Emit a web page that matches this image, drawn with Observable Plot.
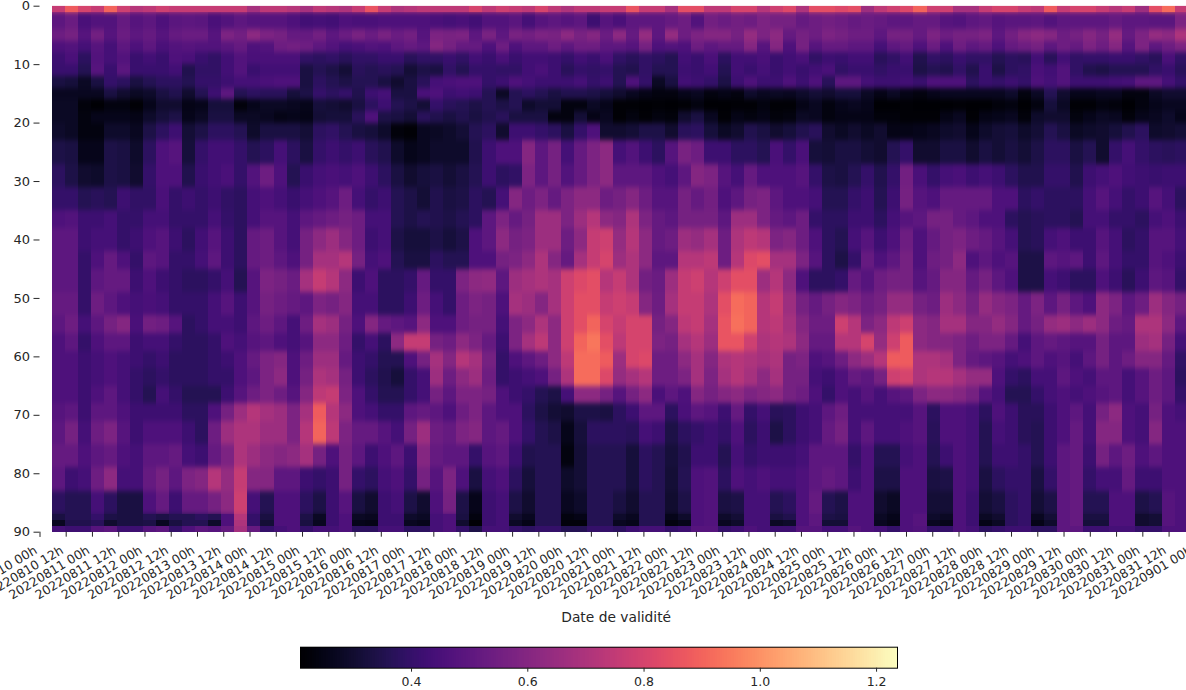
<!DOCTYPE html>
<html>
<head>
<meta charset="utf-8">
<script src="https://cdn.jsdelivr.net/npm/d3@7"></script>
<script src="https://cdn.jsdelivr.net/npm/@observablehq/plot@0.6"></script>
<style>
html,body{margin:0;padding:0;background:#fff;overflow:hidden;width:1186px;height:690px}
svg{display:block}
</style>
</head>
<body>
<div id="chart"></div>
<script>
const rowEdges=[0,1,4,6,8,10,12,14,16,18,20,23,27,31,35,38,42,45,49,53,56,59,62,65,68,71,75,79,83,87,88,89,90];
const band00=[76,88,80,76,90,78,72,74,78,76,76,76,76,76,76,68,74,74,72,68,74,72,
70,76,86,76,70,72,74,74,74,74,80,74,78,76,74,80,74,70,74,74,76,76,
86,76,76,68,84,84,74,74,80,80,72,78,82,70,84,84,82,84,66,74,78,
82,90,78,78,68,68,76,80,80,76,74,88,76,80,80,76,72,76,66,84,92,76];
const band01=[50,53,45,47,47,52,48,50,46,49,50,49,45,47,50,48,48,48,46,43,44,43,
46,45,45,46,46,46,46,45,44,45,43,47,47,49,44,48,50,48,50,42,48,45,
50,50,50,52,54,47,55,53,55,54,58,56,56,52,54,55,54,52,53,52,50,
50,52,52,48,47,50,51,48,49,49,50,47,50,50,50,50,52,50,50,49,49,58];
const band02=[54,56,48,55,48,53,50,52,48,52,53,53,48,58,55,62,58,56,52,52,55,50,
53,57,53,57,53,55,48,58,57,58,50,57,50,57,55,58,57,62,57,60,53,62,
52,64,50,64,54,58,60,60,56,64,58,62,52,56,54,58,56,54,54,50,56,
56,52,58,54,56,56,58,50,55,60,62,60,54,56,60,56,64,52,58,64,62,70];
const band03=[46,47,44,48,44,50,46,50,45,47,48,47,47,49,52,46,47,54,55,54,50,47,
44,45,47,46,50,52,50,60,56,52,52,46,54,46,50,50,54,50,54,54,50,50,
48,56,46,47,46,54,50,52,52,60,48,60,46,56,48,52,52,50,50,44,50,
52,46,53,46,54,50,52,46,52,54,56,50,54,52,58,54,60,48,58,50,54,58];
const band04=[42,45,38,47,44,47,41,43,41,46,45,41,39,43,47,45,45,45,45,39,38,39,
37,39,39,41,41,37,39,39,41,39,43,41,45,41,43,43,42,40,43,41,45,39,
37,39,38,36,43,41,45,38,43,43,45,41,43,45,39,42,41,43,43,37,39,
43,35,39,38,41,39,39,36,38,37,43,37,43,39,40,40,41,41,39,37,45,39];
const band05=[41,41,36,48,41,49,41,41,41,43,35,39,39,43,47,41,43,43,43,33,36,34,
31,37,36,37,36,31,34,33,39,36,40,40,39,39,43,45,42,37,40,39,40,36,
35,39,36,36,42,41,43,36,43,41,44,41,43,41,43,45,39,41,41,39,41,
41,34,36,35,39,35,41,34,38,39,45,43,47,39,35,34,36,36,36,39,41,37];
const band06=[33,32,28,33,40,38,33,36,38,38,36,40,40,42,44,44,45,46,46,33,38,36,
34,36,36,33,30,33,37,44,45,46,46,40,42,46,44,42,42,42,44,40,42,36,
46,40,28,33,43,42,40,34,42,46,42,42,46,42,46,37,50,50,44,42,42,
43,41,46,46,46,38,41,40,42,40,46,44,47,42,42,42,43,44,50,50,44,40];
const band07=[27,27,27,27,33,30,28,29,33,35,30,36,42,50,36,38,37,37,32,34,40,38,
40,35,42,44,33,33,45,46,42,43,42,36,28,36,38,36,33,35,35,34,32,30,
27,25,24,24,26,27,24,25,24,29,27,28,27,29,31,30,32,32,28,25,28,
25,24,26,27,27,27,27,27,29,24,28,36,30,26,26,27,27,24,24,28,30,30];
const band08=[28,28,23,21,24,24,22,26,30,30,25,26,32,32,23,26,28,28,27,26,32,31,
30,33,38,42,36,34,31,40,37,36,34,36,34,36,29,31,31,24,24,28,26,22,
22,21,22,21,22,24,21,21,22,22,24,22,22,25,27,24,26,27,26,21,21,
22,21,21,21,22,21,21,23,24,21,24,32,28,22,22,24,23,21,24,26,27,27];
const band09=[28,28,24,26,26,26,25,29,32,34,26,28,33,33,28,28,27,25,26,25,31,32,
32,37,46,34,33,31,37,35,33,35,33,35,37,33,33,33,24,24,31,25,27,22,
24,22,24,23,30,33,27,22,25,24,25,23,24,28,27,24,25,25,25,23,23,
22,22,22,25,27,22,25,26,27,23,29,30,30,24,26,28,27,23,26,27,29,26];
const band10=[29,28,24,24,29,29,27,34,38,42,31,34,38,38,36,29,33,33,33,31,38,39,
36,33,32,29,23,22,27,28,29,31,36,38,30,42,42,40,38,33,40,46,30,30,
31,34,34,30,37,38,32,28,30,35,33,30,32,35,37,30,28,30,28,30,25,
25,26,27,29,30,26,29,31,32,29,31,36,33,28,29,30,32,35,38,29,30,31];
const band11=[34,33,26,26,34,33,29,38,46,48,32,40,43,43,40,36,38,44,38,33,40,42,
40,42,37,35,29,26,27,29,29,29,35,42,46,46,60,50,56,44,52,58,62,44,
47,42,38,48,57,54,42,42,38,38,36,45,40,45,32,31,33,33,31,30,36,
40,30,30,33,33,30,33,31,33,31,34,38,38,33,36,30,40,44,40,38,37,38];
const band12=[38,34,30,29,34,33,30,40,46,46,35,41,43,45,40,47,54,46,36,41,44,45,
44,46,42,38,33,30,32,33,31,33,36,42,38,39,58,50,56,47,52,58,62,50,
50,50,46,44,50,60,58,48,44,52,46,46,46,48,40,34,33,36,40,35,40,
55,45,40,44,45,42,44,42,38,35,35,40,40,35,42,44,46,43,42,41,42,42];
const band13=[40,40,36,37,36,42,39,39,45,40,42,40,42,39,38,44,46,44,41,44,46,48,
54,44,40,42,36,34,31,35,33,34,38,36,44,60,54,58,52,58,62,62,54,56,
60,54,48,48,56,52,55,46,50,56,58,50,46,46,44,36,36,40,42,36,42,
56,48,46,52,52,52,52,46,46,38,40,38,38,38,44,48,44,40,42,48,44,38];
const band14=[46,47,42,42,44,40,40,44,44,40,40,40,44,40,38,44,48,48,44,50,52,54,
56,54,44,44,36,34,36,35,34,36,38,50,58,52,56,66,66,58,66,72,62,60,
70,58,52,50,56,56,56,50,66,66,58,52,50,54,40,38,38,42,42,38,44,
48,50,56,56,52,50,46,46,38,36,37,38,38,36,44,44,40,40,38,44,46,42];
const band15=[50,50,42,44,44,40,42,46,48,42,38,43,48,42,38,52,54,48,44,56,62,66,
60,54,42,44,34,32,32,34,32,34,46,50,62,56,58,66,66,54,62,76,78,64,
72,62,52,54,66,64,68,54,70,74,72,58,60,54,46,38,36,44,48,42,46,
54,46,52,56,58,54,52,48,44,36,37,44,46,42,42,48,44,38,40,48,48,44];
const band16=[50,50,40,46,52,46,40,50,48,40,40,44,50,42,38,52,54,50,46,56,68,68,
72,56,44,46,36,33,33,38,36,36,46,46,56,58,62,70,60,52,68,76,80,66,
70,62,50,50,72,72,74,54,72,82,84,68,68,58,48,38,34,40,52,46,50,
56,46,54,56,62,46,50,46,48,34,34,50,48,50,42,50,44,40,40,48,46,42];
const band17=[50,50,40,50,52,52,42,46,42,40,38,38,40,44,36,48,58,56,53,68,76,72,
62,42,46,38,38,40,52,40,40,58,62,63,50,66,68,70,68,78,82,84,72,76,
70,55,53,66,76,78,72,78,84,84,66,72,62,46,38,38,40,52,48,54,56,
56,48,52,60,60,52,56,50,46,34,34,44,42,38,38,46,42,37,42,50,48,40];
const band18=[52,52,40,54,50,46,44,45,44,40,40,40,44,48,42,48,56,54,52,50,58,56,
60,44,44,38,38,42,54,44,40,54,58,56,46,68,66,60,68,78,84,84,76,78,
76,60,54,68,76,76,70,84,92,90,72,76,66,56,52,56,60,58,54,56,64,
64,56,54,66,62,56,64,60,58,52,58,50,56,50,46,62,58,50,54,66,60,56];
const band19=[50,54,44,50,56,60,45,55,54,48,38,40,44,44,42,50,54,50,44,54,68,66,
56,46,60,52,50,48,62,46,46,54,56,56,44,58,62,70,62,78,84,90,80,76,
80,80,56,60,74,76,68,86,93,90,72,74,68,60,54,54,78,72,58,62,74,
78,62,60,68,68,60,60,64,60,52,56,64,66,62,66,62,54,52,70,70,62,50];
const band20=[46,50,40,46,50,50,42,44,44,40,38,38,40,46,44,48,50,46,44,48,62,62,
54,40,44,38,62,76,76,56,54,62,58,52,42,58,68,74,62,78,90,94,84,74,
80,80,58,56,68,72,66,86,86,78,70,72,70,62,52,52,72,72,80,64,78,
88,62,60,60,58,54,58,58,52,44,50,52,50,48,48,56,50,50,66,68,56,44];
const band21=[46,46,42,44,46,44,42,40,42,38,38,38,40,42,46,52,58,60,46,54,66,66,
52,42,40,36,36,46,56,68,60,72,68,56,40,46,50,54,62,74,92,92,88,66,
80,82,54,54,62,68,60,70,72,70,68,70,56,58,46,48,54,62,66,72,88,
88,70,70,68,58,52,50,48,44,46,50,46,48,44,50,56,50,54,60,60,52,39];
const band22=[46,46,42,44,46,44,40,38,40,38,38,38,40,40,46,50,58,62,46,56,70,68,
56,42,38,35,32,40,44,66,54,62,66,54,40,42,44,46,56,70,92,92,82,64,
68,72,54,54,58,68,58,68,72,68,62,68,56,56,44,42,46,52,50,56,78,
80,70,72,72,68,64,64,46,40,38,44,44,50,46,44,50,50,44,48,54,50,38];
const band23=[46,46,42,46,50,44,40,36,44,40,36,36,36,42,48,54,58,54,48,60,74,76,
58,46,40,36,36,40,44,56,50,58,58,56,46,42,40,36,34,44,62,62,56,48,
56,62,45,50,46,60,56,60,62,58,60,62,56,54,46,40,46,44,48,44,48,
50,58,62,62,60,56,48,44,36,36,40,44,46,44,46,48,50,44,48,54,50,40];
const band24=[48,50,42,50,50,46,42,42,42,42,38,38,46,56,66,72,68,66,58,68,88,72,
62,46,44,40,40,50,52,50,46,54,58,50,46,46,38,34,31,30,34,34,33,38,
42,50,50,38,45,50,48,42,52,40,44,37,38,42,44,50,54,44,44,44,44,
44,48,38,46,46,44,38,46,42,37,37,42,46,50,44,56,62,46,44,56,46,44];
const band25=[50,56,44,54,58,48,42,46,46,46,42,38,54,66,70,70,66,66,58,72,90,74,
58,52,52,48,44,56,66,54,52,58,60,50,52,46,40,36,34,26,32,38,38,38,
37,44,42,34,38,40,42,40,46,38,42,34,38,42,44,52,56,44,50,44,44,
46,48,37,46,46,44,36,44,42,37,36,42,46,52,44,60,60,46,44,60,46,46];
const band26=[52,52,46,50,52,46,44,50,50,52,44,42,52,58,70,66,62,60,62,68,56,46,
56,50,42,46,50,42,60,52,50,50,40,48,50,42,35,36,36,24,31,36,36,36,
32,38,36,32,35,42,42,36,44,40,42,42,42,44,50,50,50,40,46,36,36,
44,46,36,42,46,44,36,42,42,40,36,42,50,52,42,56,50,54,46,50,46,46];
const band27=[50,42,44,54,62,44,44,52,56,50,58,60,72,64,76,60,60,50,50,42,40,42,
56,40,38,44,46,40,56,48,58,46,33,44,46,38,32,36,36,29,31,36,36,36,
32,38,36,31,36,46,47,38,46,44,46,44,44,46,50,52,50,42,46,34,34,
46,46,33,34,46,44,33,38,40,40,33,40,50,52,40,44,44,52,42,42,46,46];
const band28=[38,36,36,44,38,33,33,46,52,42,52,52,56,62,78,44,36,46,46,38,34,42,
48,33,30,42,44,34,30,46,56,34,26,42,44,34,30,36,36,27,29,36,36,33,
30,36,36,30,34,46,47,33,34,44,44,36,38,46,52,36,34,46,46,30,28,
46,46,31,31,46,42,31,33,38,40,31,34,50,52,36,36,46,46,34,36,48,46];
const band29=[33,36,36,40,34,33,33,36,34,36,36,38,36,46,72,40,33,46,46,34,28,42,
46,28,27,42,42,29,28,44,46,33,24,42,44,30,27,36,36,24,25,36,36,29,
27,36,36,26,29,46,47,29,31,44,44,33,35,46,50,34,33,46,46,28,26,
46,48,29,28,46,42,28,30,38,40,27,31,50,52,33,33,46,46,30,31,48,46];
const band30=[27,35,35,37,30,33,33,34,27,33,36,36,29,46,70,40,31,46,46,33,27,42,
46,26,25,42,42,27,26,44,46,30,22,42,44,28,25,36,36,23,23,36,36,27,
26,36,36,24,26,46,47,27,29,44,44,28,29,46,50,31,31,46,46,27,25,
46,48,27,26,46,42,25,28,38,40,25,29,50,52,32,32,46,46,30,31,48,46];
const band31=[44,42,42,48,50,42,42,48,50,40,46,50,48,52,68,52,40,44,46,40,44,44,
46,38,38,44,44,38,38,44,46,40,34,44,44,40,38,40,40,36,36,40,40,38,
42,44,44,40,42,48,48,40,42,46,44,42,42,48,48,44,44,48,46,44,40,
46,47,40,40,46,44,38,40,42,42,38,38,50,50,42,42,44,44,40,40,46,46];
const bands=[band00,band01,band02,band03,band04,band05,band06,band07,band08,band09,band10,band11,band12,band13,band14,band15,band16,band17,band18,band19,band20,band21,band22,band23,band24,band25,band26,band27,band28,band29,band30,band31];

const dateLabels=["20220810 00h","20220810 12h","20220811 00h","20220811 12h","20220812 00h","20220812 12h","20220813 00h","20220813 12h","20220814 00h","20220814 12h","20220815 00h","20220815 12h","20220816 00h","20220816 12h","20220817 00h","20220817 12h","20220818 00h","20220818 12h","20220819 00h","20220819 12h","20220820 00h","20220820 12h","20220821 00h","20220821 12h","20220822 00h","20220822 12h","20220823 00h","20220823 12h","20220824 00h","20220824 12h","20220825 00h","20220825 12h","20220826 00h","20220826 12h","20220827 00h","20220827 12h","20220828 00h","20220828 12h","20220829 00h","20220829 12h","20220830 00h","20220830 12h","20220831 00h","20220831 12h","20220901 00h"];
const yTicks=[0,10,20,30,40,50,60,70,80,90];
const colorTicks=[0.4,0.6,0.8,1.0,1.2];
const colorDomain=[0.209,1.236];
const tickFirst=-0.924, tickStep=2.0107; // label positions in column units
const ink="#262626";
const font="'DejaVu Sans', sans-serif";

const cells=bands.flatMap((vals,b)=>vals.map((v,k)=>({k,r0:rowEdges[b],r1:rowEdges[b+1],v:v/100})));
const sharpCells=cells.filter(d=>d.r0===0||d.r0>=87);
const labelled=dateLabels.map((text,i)=>({text,pos:tickFirst+i*tickStep}));
const visible=labelled.slice(1,44).map(d=>d.pos);

const color={type:"linear",scheme:"magma",domain:colorDomain};
const rectOpts={x1:d=>d.k,x2:d=>d.k+1,y1:"r0",y2:"r1",fill:"v",shapeRendering:"crispEdges"};

const main=Plot.plot({
  width:1186,height:640,
  marginTop:5.7,marginBottom:108.3,marginLeft:51.5,marginRight:0,
  style:{background:"#fff",fontFamily:font,fontSize:"13px",color:ink},
  x:{domain:[0,87],range:[51.5,1187.7]},
  y:{domain:[0,90],range:[5.7,531.7]},
  color,
  marks:[
    Plot.rect(cells,rectOpts),
    Plot.rect(cells,{...rectOpts,clip:"frame",className:"soft"}),
    Plot.rect(sharpCells,rectOpts),
    Plot.axisY({ticks:yTicks,tickSize:6,tickPadding:4,dx:-12,label:null,fontSize:13,stroke:ink,fill:ink}),
    Plot.ruleX([0],{y1:90,y2:90.9,dx:-12,stroke:ink}),
    Plot.axisX({anchor:"bottom",ticks:visible,tickSize:5,tickFormat:()=>"",label:null,stroke:ink}),
    Plot.text(labelled,{x:"pos",y:()=>90,text:"text",rotate:-31,textAnchor:"end",dx:-4,dy:17,fontSize:12.5,fill:ink}),
    Plot.text(["Date de validité"],{x:()=>43.2,y:()=>90,dy:85.5,fontSize:13.8,fill:ink})
  ]
});
// the reference's rows melt slightly into each other vertically
const ns="http://www.w3.org/2000/svg";
const defs=document.createElementNS(ns,"defs");
const flt=document.createElementNS(ns,"filter");
flt.setAttribute("id","rowsoft");
flt.setAttribute("x","-2%");flt.setAttribute("y","-5%");flt.setAttribute("width","104%");flt.setAttribute("height","110%");
flt.setAttribute("color-interpolation-filters","sRGB");
const gb=document.createElementNS(ns,"feGaussianBlur");
gb.setAttribute("stdDeviation","0 2.5");
flt.append(gb);defs.append(flt);main.prepend(defs);
const soft=main.querySelector(".soft");
if(soft){const inner=soft.matches("g")?soft:soft.querySelector("g");inner.setAttribute("filter","url(#rowsoft)");}

const stops=d3.range(256).map(i=>colorDomain[0]+(colorDomain[1]-colorDomain[0])*i/256);
const stepW=(colorDomain[1]-colorDomain[0])/256;
const bar=Plot.plot({
  width:1186,height:50,
  marginTop:6.7,marginBottom:22.3,marginLeft:300,marginRight:289,
  style:{background:"#fff",fontFamily:font,fontSize:"12.5px",color:ink},
  x:{domain:colorDomain},
  y:{domain:[0,1],axis:null},
  color,
  marks:[
    Plot.rect(stops,{x1:d=>d,x2:d=>d+stepW,y1:0,y2:1,fill:d=>d+stepW/2,shapeRendering:"crispEdges"}),
    Plot.frame({stroke:"#000"}),
    Plot.axisX({anchor:"bottom",ticks:colorTicks,tickFormat:".1f",tickSize:4,tickPadding:5,label:null,fontSize:12.5,stroke:ink,fill:ink})
  ]
});
const host=document.getElementById("chart");
host.append(main,bar);
</script>
</body>
</html>
